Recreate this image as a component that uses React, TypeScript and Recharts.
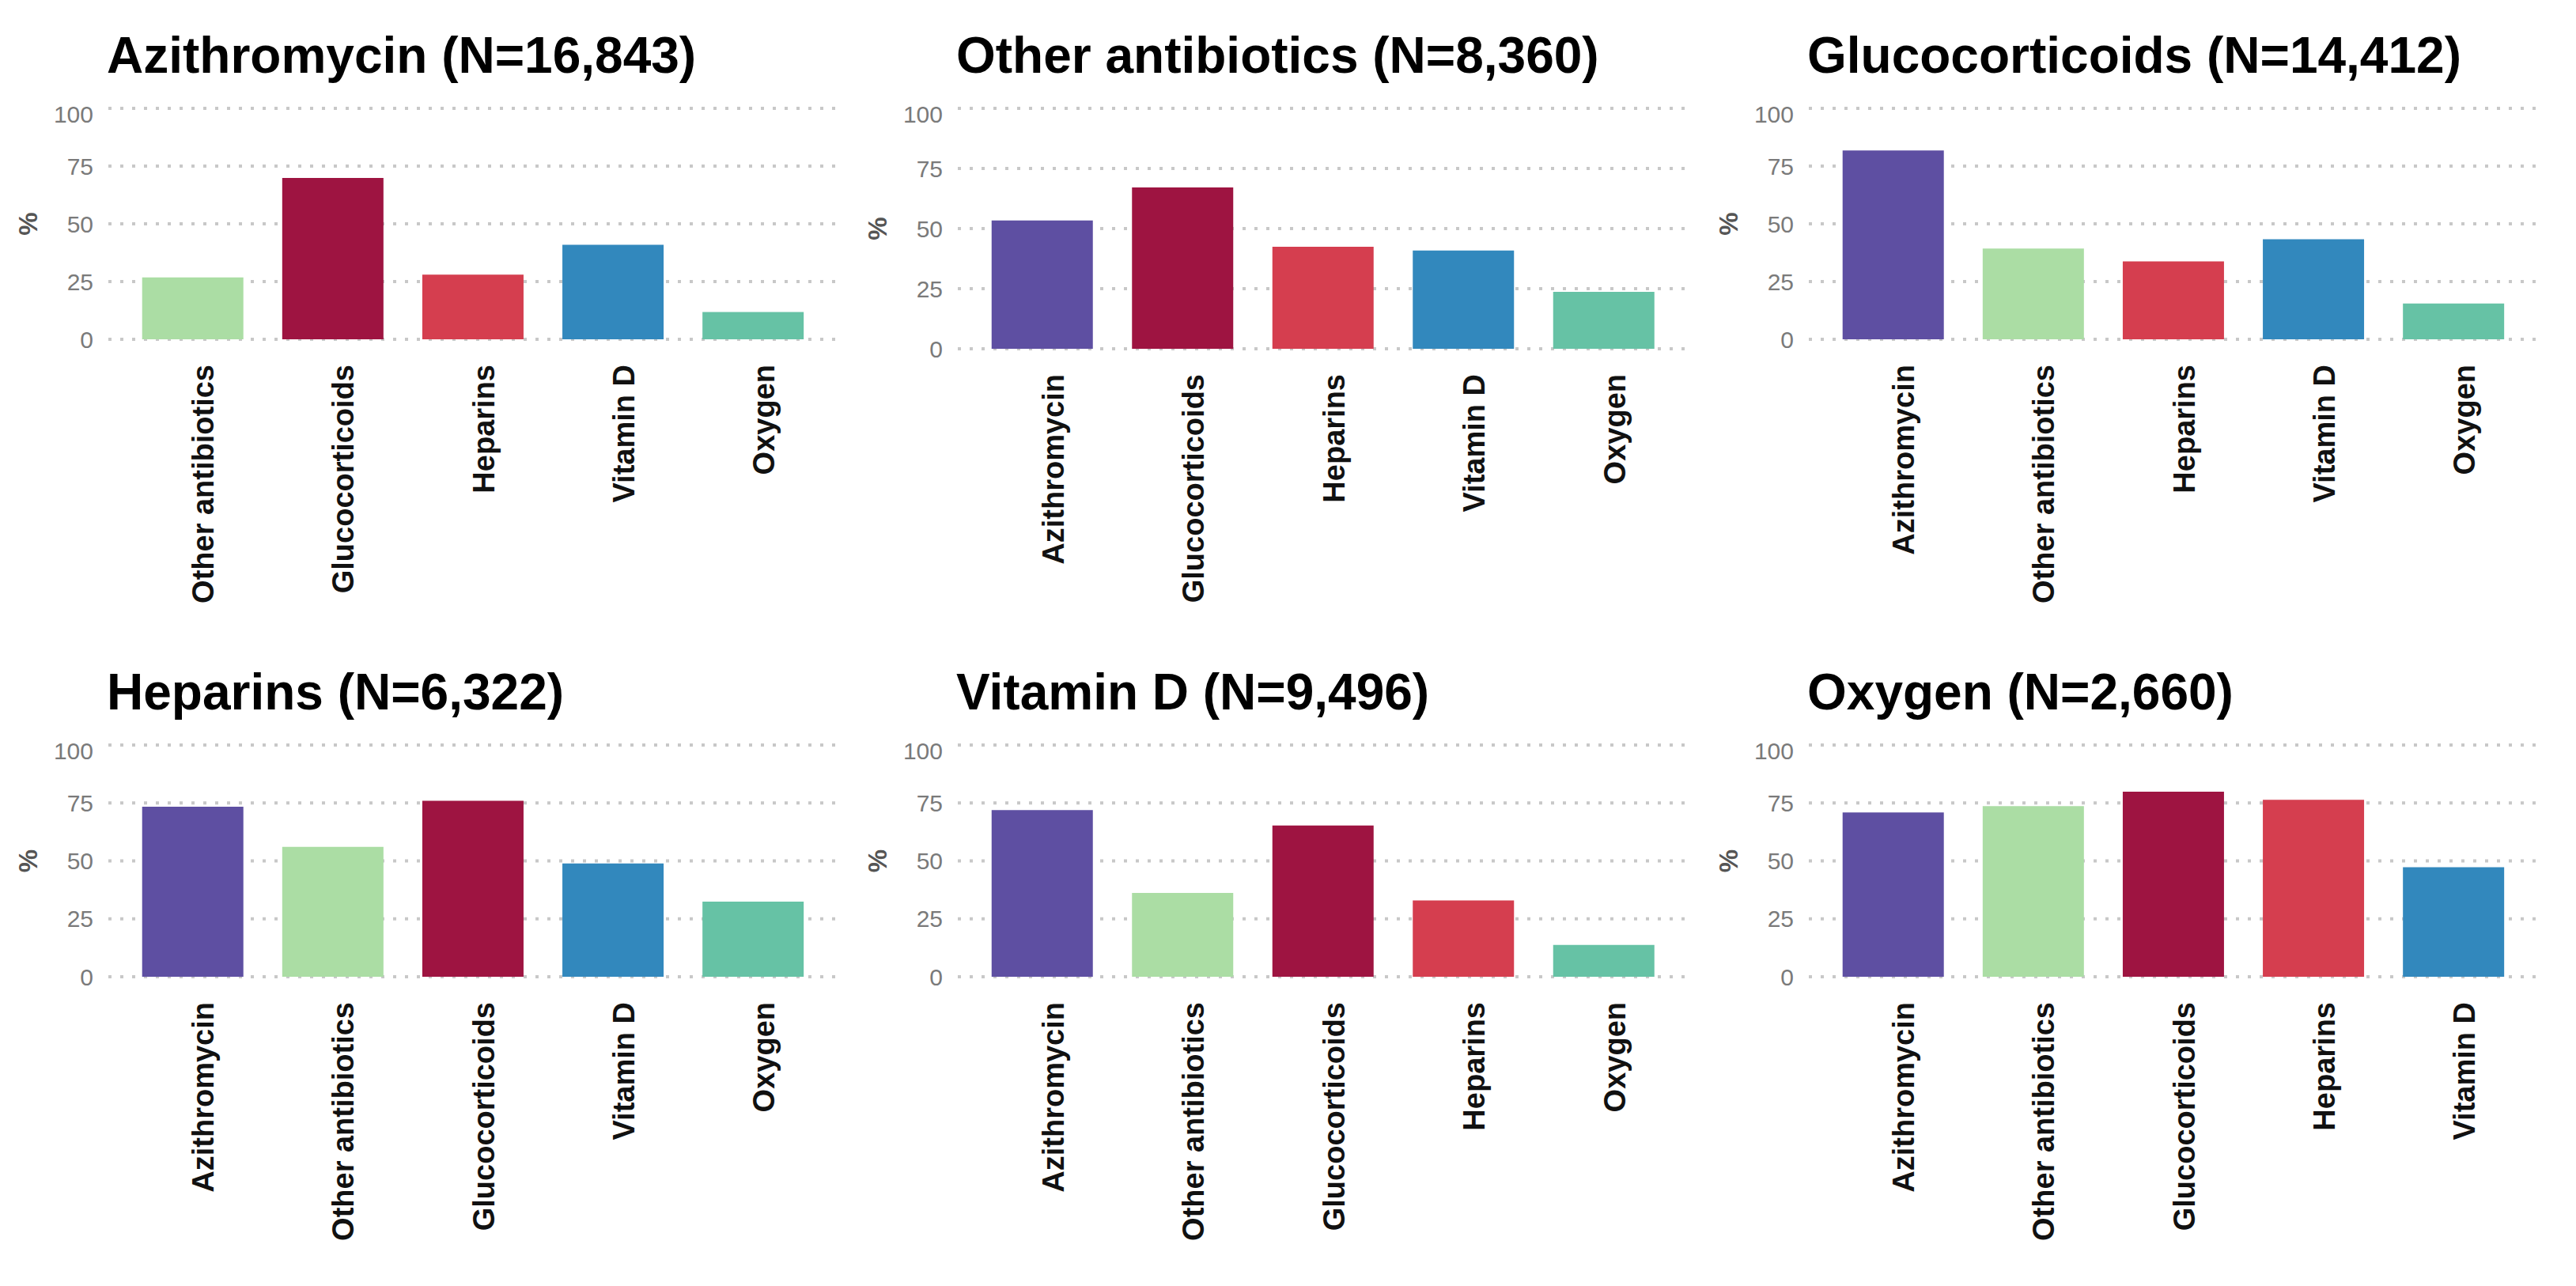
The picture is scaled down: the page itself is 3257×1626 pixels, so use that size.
import { Bar, BarChart, CartesianGrid, Cell, Label, XAxis, YAxis } from "recharts";

const DRUGS = ["Azithromycin", "Other antibiotics", "Glucocorticoids", "Heparins", "Vitamin D", "Oxygen"];
const DRUG_COLORS = ["#5E4FA2", "#ABDDA4", "#9E1441", "#D53E4F", "#3288BD", "#66C2A5"];
const GROUP_N = [16843, 8360, 14412, 6322, 9496, 2660];

// % co-prescribed, in DRUGS order with the panel's own drug left out
const azithromycinPct = [26.8, 69.9, 28.0, 40.9, 11.8];
const otherAntibioticsPct = [53.4, 67.1, 42.4, 40.9, 23.7];
const glucocorticoidsPct = [81.8, 39.3, 33.7, 43.3, 15.5];
const heparinsPct = [73.4, 56.1, 75.9, 48.9, 32.4];
const vitaminDPct = [71.9, 36.2, 65.3, 32.9, 13.7];
const oxygenPct = [70.9, 73.6, 79.9, 76.4, 47.3];

const PCT = [azithromycinPct, otherAntibioticsPct, glucocorticoidsPct, heparinsPct, vitaminDPct, oxygenPct];
const Y_TICKS = [0, 25, 50, 75, 100];

const FONT = '"Liberation Sans", Arial, Helvetica, sans-serif';

// plot area of each panel on the page: left, top, right, bottom
const PANEL_BOX = [
  [137, 137, 1058, 429],
  [1211, 137, 2134, 441],
  [2287, 137, 3208, 429],
  [137, 942, 1058, 1235],
  [1211, 942, 2134, 1235],
  [2287, 942, 3208, 1235],
];

const Y_W = 137;
const TOP = 10;
const RIGHT = 10;
const X_H = 340;

const RotatedTick = ({ x, y, payload }: any) => (
  <g transform={`translate(${x},${y + 32})`}>
    <text
      transform="rotate(-90)"
      textAnchor="end"
      dy={27}
      fontSize={38}
      fontWeight={700}
      fontFamily={FONT}
      fill="#111"
    >
      {payload.value}
    </text>
  </g>
);

const PercentLabel = (props: any) => {
  const vb = props.viewBox || { x: 0, y: 0, height: 0 };
  const cx = vb.x + 35;
  const cy = vb.y + vb.height / 2;
  return (
    <text
      x={cx}
      y={cy}
      transform={`rotate(-90, ${cx}, ${cy})`}
      textAnchor="middle"
      dominantBaseline="central"
      fontSize={33}
      fontWeight={700}
      fontFamily={FONT}
      fill="#555"
    >
      %
    </text>
  );
};

const Panel = ({ index }: { index: number }) => {
  const [l, t, r, b] = PANEL_BOX[index];
  const data = DRUGS.map((name, i) => ({ name, color: DRUG_COLORS[i] }))
    .filter((d) => d.name !== DRUGS[index])
    .map((d, k) => ({ ...d, pct: PCT[index][k] }));
  const unit = (r - l) / 5.2;
  const title = `${DRUGS[index]} (N=${GROUP_N[index].toLocaleString("en-US")})`;

  return (
    <>
      <div
        style={{
          position: "absolute",
          left: l - 2,
          top: t - 45 - 54,
          fontFamily: FONT,
          fontWeight: 700,
          fontSize: 64,
          lineHeight: "64px",
          color: "#000",
          whiteSpace: "nowrap",
        }}
      >
        {title}
      </div>
      <div style={{ position: "absolute", left: l - Y_W, top: t - TOP }}>
        <BarChart
          width={Y_W + (r - l) + RIGHT}
          height={TOP + (b - t) + X_H}
          data={data}
          margin={{ top: TOP, right: RIGHT, bottom: 0, left: 0 }}
        >
          <CartesianGrid
            vertical={false}
            stroke="#c8c8c8"
            strokeWidth={4}
            strokeDasharray="4 11"
          />
          <XAxis
            dataKey="name"
            type="category"
            interval={0}
            axisLine={false}
            tickLine={false}
            tickSize={0}
            tickMargin={0}
            height={X_H}
            padding={{ left: unit * 0.1, right: unit * 0.1 }}
            tick={<RotatedTick />}
          />
          <YAxis
            type="number"
            domain={[0, 100]}
            ticks={Y_TICKS}
            width={Y_W}
            axisLine={false}
            tickLine={false}
            tickSize={0}
            tickMargin={19}
            tick={{ fill: "#7a7a7a", fontSize: 30, fontFamily: FONT }}
          >
            <Label content={<PercentLabel />} />
          </YAxis>
          <Bar dataKey="pct" barSize={Math.round(unit * 0.723)} isAnimationActive={false}>
            {data.map((d) => (
              <Cell key={d.name} fill={d.color} />
            ))}
          </Bar>
        </BarChart>
      </div>
    </>
  );
};

export default function App() {
  return (
    <div
      style={{
        position: "absolute",
        left: 0,
        top: 0,
        width: 3257,
        height: 1626,
        background: "#fff",
        overflow: "hidden",
      }}
    >
      {DRUGS.map((d, i) => (
        <Panel key={d} index={i} />
      ))}
    </div>
  );
}
